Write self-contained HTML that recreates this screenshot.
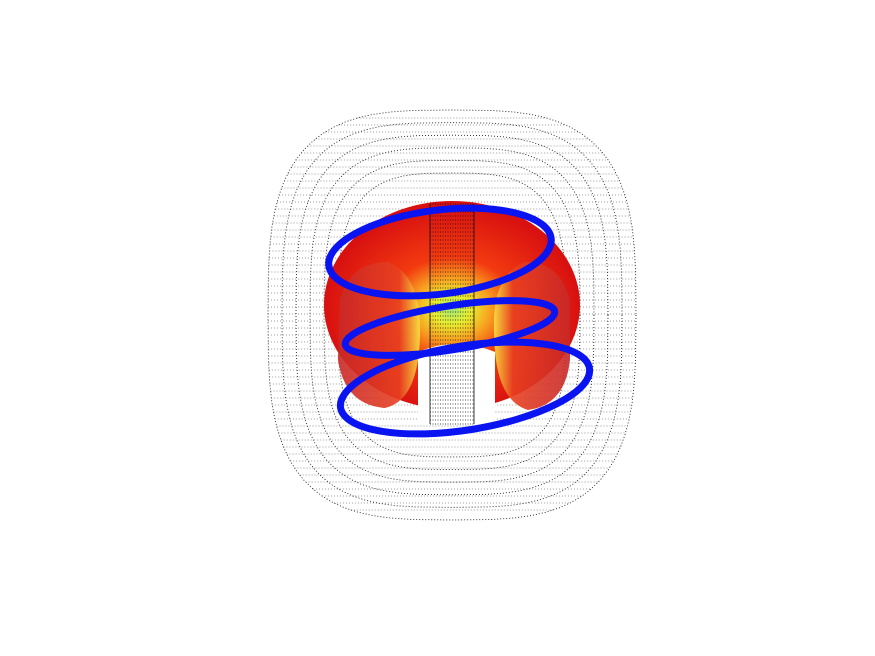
<!DOCTYPE html>
<html><head><meta charset="utf-8"><style>
html,body{margin:0;padding:0;background:#fff;width:875px;height:656px;overflow:hidden;font-family:"Liberation Sans",sans-serif}
</style></head><body>
<svg width="875" height="656" viewBox="0 0 875 656" xmlns="http://www.w3.org/2000/svg">
<defs>
<radialGradient id="tg" cx="0.5" cy="0.52" r="0.5">
<stop offset="0" stop-color="#9fe87a"/><stop offset="0.14" stop-color="#e8ee30"/><stop offset="0.3" stop-color="#f8a020"/><stop offset="0.5" stop-color="#f23a10"/><stop offset="1" stop-color="#d81010"/>
</radialGradient>
<linearGradient id="lobe" x1="0" x2="1"><stop offset="0" stop-color="#c82828"/><stop offset="0.75" stop-color="#e84020"/><stop offset="1" stop-color="#f8e040"/></linearGradient>
<linearGradient id="lobeR" x1="1" x2="0"><stop offset="0" stop-color="#c82828"/><stop offset="0.75" stop-color="#e84020"/><stop offset="1" stop-color="#f8e040"/></linearGradient>
</defs>
<g id="shell" fill="none" stroke="#222" stroke-width="0.9" stroke-dasharray="1 2"></g>
<g>
<ellipse cx="452" cy="305" rx="128" ry="104" fill="url(#tg)"/>
<path d="M418 352 L418 422 L495 422 L495 352 Q456 336 418 352Z" fill="#fff"/>
<path d="M340 300 Q350 262 388 262 Q420 275 420 330 Q420 400 385 408 Q345 405 338 360Z" fill="url(#lobe)" opacity="0.9"/>
<path d="M570 300 Q560 262 525 262 Q492 275 494 330 Q494 400 528 410 Q565 405 570 360Z" fill="url(#lobeR)" opacity="0.9"/>
</g>
<g id="cyl" stroke="#111" stroke-width="0.8" stroke-dasharray="1 1.5" fill="none"></g>
<g id="helix" fill="none" stroke="#0a14f0" stroke-width="7"></g>
</svg>
<script>
const ringCx=[440,450,465];
const ringCy=[252,328,388];
const ringRx=[112,106,126];
const ringRy=[42,22,42];
const ringRot=[-7,-9,-9];
const NS="http://www.w3.org/2000/svg";
const shell=document.getElementById('shell');
function barrel(cx,cy,a,b,n){let d='';for(let i=0;i<=72;i++){const t=i/72*2*Math.PI;const c=Math.cos(t),s=Math.sin(t);const x=cx+a*Math.sign(c)*Math.pow(Math.abs(c),2/n);const y=cy+b*Math.sign(s)*Math.pow(Math.abs(s),2/n);d+=(i?'L':'M')+x.toFixed(1)+' '+y.toFixed(1);}return d+'Z';}
const shellInsets=[0,14,28,42,56,70];
for(const d of shellInsets){
  const p=document.createElementNS(NS,'path');
  
  
  p.setAttribute('d',barrel(452,315,184-d,205-d*0.9,3.2));
  shell.appendChild(p);
}
for(let y=118;y<=512;y+=7){
  const l=document.createElementNS(NS,'line');
  
  
  const v=Math.abs(y-315)/205;
  const half=184*Math.pow(Math.max(0,1-Math.pow(v,3.2)),1/3.2);
  l.setAttribute('x1',452-half);l.setAttribute('x2',452+half);l.setAttribute('y1',y);l.setAttribute('y2',y);
  l.setAttribute('opacity','0.45');
  shell.appendChild(l);
}
const cyl=document.getElementById('cyl');
for(let y=204;y<=424;y+=4){
  const l=document.createElementNS(NS,'line');
  
  
  l.setAttribute('x1',430);l.setAttribute('x2',474);l.setAttribute('y1',y);l.setAttribute('y2',y);
  cyl.appendChild(l);
}
for(const x of [430,474]){
  const l=document.createElementNS(NS,'line');
  
  
  l.setAttribute('x1',x);l.setAttribute('x2',x);l.setAttribute('y1',204);l.setAttribute('y2',424);
  l.setAttribute('stroke-dasharray','none');
  cyl.appendChild(l);
}
const helix=document.getElementById('helix');
for(let i=0;i<ringCx.length;i++){
  const e=document.createElementNS(NS,'ellipse');
  
  
  e.setAttribute('cx',ringCx[i]);e.setAttribute('cy',ringCy[i]);
  e.setAttribute('rx',ringRx[i]);e.setAttribute('ry',ringRy[i]);
  e.setAttribute('transform','rotate('+ringRot[i]+' '+ringCx[i]+' '+ringCy[i]+')');
  helix.appendChild(e);
}
</script>
</body></html>
